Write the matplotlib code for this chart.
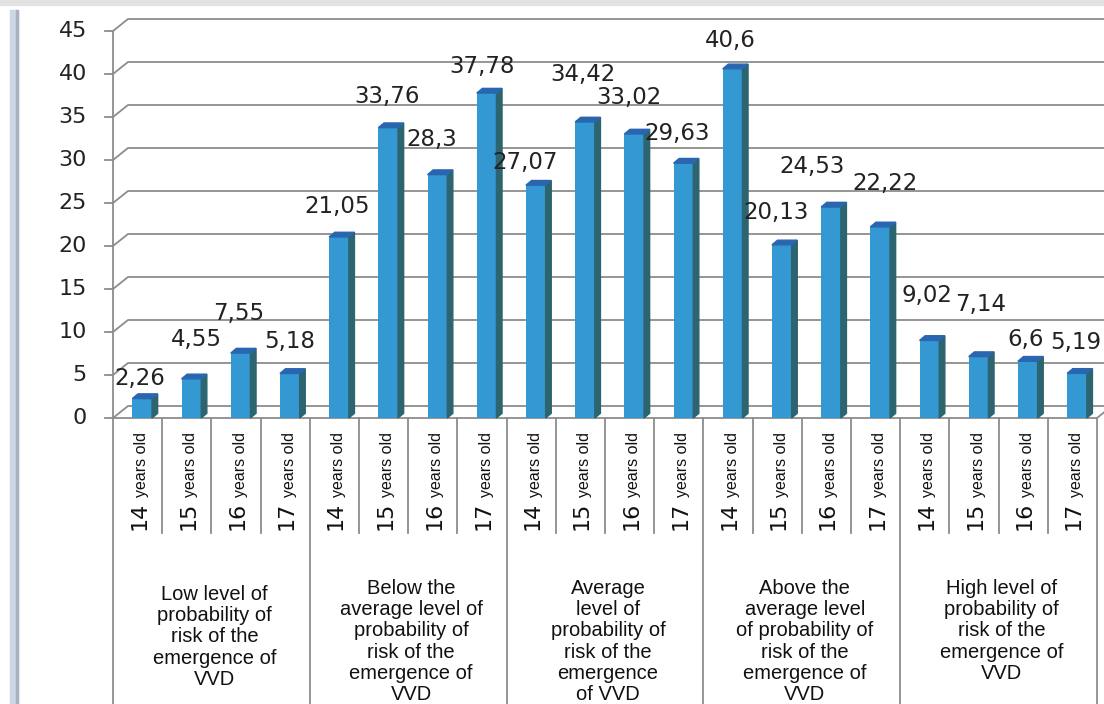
import matplotlib
matplotlib.use('Agg')
import matplotlib.pyplot as plt
import matplotlib.transforms as transforms
from matplotlib.patches import Polygon, Rectangle

# data
groups = ['Low level of\nprobability of\nrisk of the\nemergence of\nVVD',
          'Below the\naverage level of\nprobability of\nrisk of the\nemergence of\nVVD',
          'Average\nlevel of\nprobability of\nrisk of the\nemergence\nof VVD',
          'Above the\naverage level\nof probability of\nrisk of the\nemergence of\nVVD',
          'High level of\nprobability of\nrisk of the\nemergence of\nVVD']
ages = ['14', '15', '16', '17']
values = [2.26, 4.55, 7.55, 5.18,
          21.05, 33.76, 28.3, 37.78,
          27.07, 34.42, 33.02, 29.63,
          40.6, 20.13, 24.53, 22.22,
          9.02, 7.14, 6.6, 5.19]
yticks = [0, 5, 10, 15, 20, 25, 30, 35, 40, 45]

# hand placed data labels (pixel nudges, like the excel original)
lab_dx = [-2, 5, -2, 0, -2, -1, -6, -5, -11, -2, -5, -6, -2, -6, -19, 5, -2, 2, -2, -1]
lab_dy = [20, 39, 40, 32, 30, 31, 35, 27, 23, 47, 37, 30, 28, 32, 41, 43, 45, 52, 22, 31]

W, H = 1104, 704
grid_col = '#8c8c8c'
front_col = '#3498d2'
side_col = '#2c6470'
top_col = '#2a66b0'

fig = plt.figure(figsize=(W / 100, H / 100), dpi=100)
ax = fig.add_axes([113 / W, 1 - 418 / H, (1097 - 113) / W, (418 - 31) / H])
n = len(values)
ax.set_xlim(-0.5, n - 0.5)
ax.set_ylim(0, 45)
ax.axis('off')

# pixels per data unit
px_x = ax.bbox.width / n
px_y = ax.bbox.height / 45

def fy(py):
    return 1 - py / H

blend = transforms.blended_transform_factory(ax.transData, fig.transFigure)

# screenshot frame bits
fig.patches.append(Rectangle((0, fy(5)), 1, 5 / H, transform=fig.transFigure,
                             color='#e2e2e2', zorder=0))
fig.patches.append(Rectangle((10 / W, 0), 8 / W, fy(10), transform=fig.transFigure,
                             color='#cdd6e3', zorder=0))
fig.patches.append(Rectangle((16 / W, 0), 2 / W, fy(10), transform=fig.transFigure,
                             color='#a9b2bf', zorder=0))

# back wall grid (3d offset)
gdx, gdy = 15 / px_x, 12 / px_y
x0, x1 = -0.5, n - 0.5
for t in yticks:
    ax.plot([x0, x0 + gdx, x1 + gdx], [t, t + gdy, t + gdy], color=grid_col,
            lw=1.3, clip_on=False, zorder=1)
    ax.plot([x0 - 8 / px_x, x0], [t, t], color=grid_col, lw=1.3, clip_on=False)
    ax.text(x0 - 26 / px_x, t, str(t), ha='right', va='center', fontsize=16,
            color='#222222', family='DejaVu Sans')
ax.plot([x0, x0], [0, 45], color=grid_col, lw=1.3, clip_on=False, zorder=2)
ax.plot([x0, x1, x1 + gdx], [0, 0, gdy], color=grid_col, lw=1.3, clip_on=False, zorder=2)

# bars with side and top faces
bw = 0.40
shift = 4.6 / px_x
bdx, bdy = 5.6 / px_x, 4.7 / px_y
xs = [i + shift for i in range(n)]
ax.bar(xs, values, width=bw, color=front_col, zorder=3)
for i, v in enumerate(values):
    xl, xr = xs[i] - bw / 2, xs[i] + bw / 2
    ax.add_patch(Polygon([(xr, 0), (xr, v), (xr + bdx, v + bdy), (xr + bdx, bdy)],
                         closed=True, color=side_col, zorder=3, clip_on=False))
    ax.add_patch(Polygon([(xl, v), (xr, v), (xr + bdx, v + bdy), (xl + bdx, v + bdy)],
                         closed=True, color=top_col, zorder=3, clip_on=False))
    ax.text(xs[i] + lab_dx[i] / px_x, v + lab_dy[i] / px_y, f'{v:g}'.replace('.', ','),
            ha='center', va='center', fontsize=16.5, color='#222222',
            family='DejaVu Sans', zorder=5, clip_on=False)

# category table under the floor
for i in range(n + 1):
    bottom = 704 if i % 4 == 0 else 533
    ax.plot([i - 0.5, i - 0.5], [fy(418), fy(bottom)], color=grid_col, lw=1.3,
            transform=blend, clip_on=False)

for i in range(n):
    ax.text(i + 7.5 / px_x, fy(530), ages[i % 4], rotation=90, rotation_mode='anchor',
            ha='left', va='baseline', fontsize=16, color='#111111',
            family='DejaVu Sans', transform=blend)
    ax.text(i + 8.5 / px_x, fy(497), 'years old', rotation=90, rotation_mode='anchor',
            ha='left', va='baseline', fontsize=11.5, color='#111111',
            family='Liberation Sans', transform=blend)

for g, label in enumerate(groups):
    top = 585 if g == 0 else 579
    ax.text(4 * g + 1.5 + 3 / px_x, fy(top), label, ha='center', va='top',
            fontsize=14.5, linespacing=1.15, color='#111111',
            family='Liberation Sans', transform=blend)

fig.savefig('out.png', dpi=100)
